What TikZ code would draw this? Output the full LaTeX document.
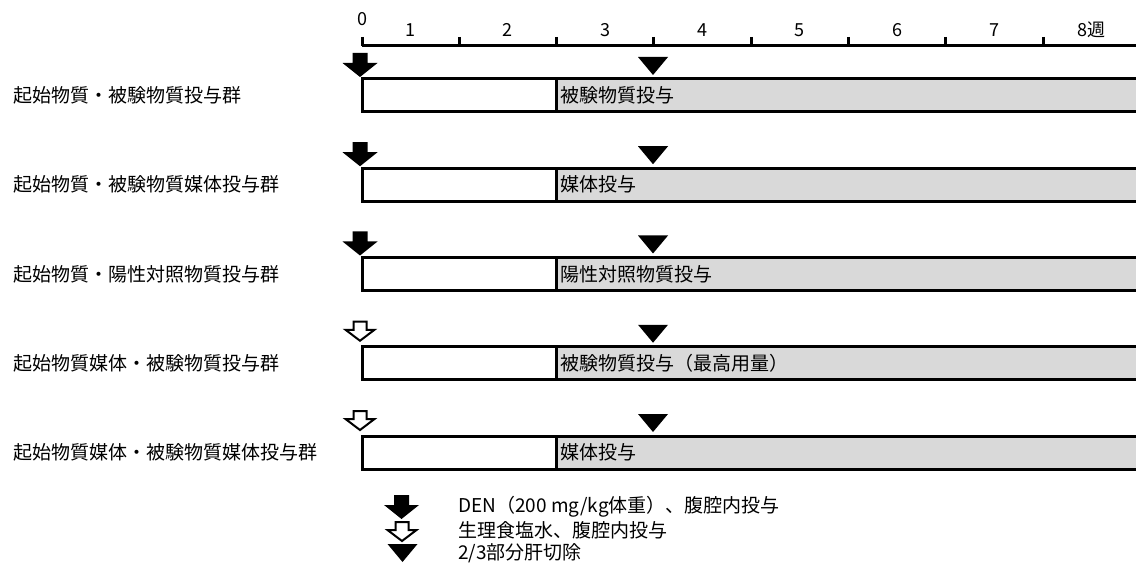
\documentclass[tikz,border=0pt]{standalone}
\usepackage{fontspec}
\setmainfont{Noto Sans CJK JP}
\usepackage{xcolor}
\definecolor{chart-ink}{HTML}{000000}
\definecolor{chart-shade}{HTML}{D9D9D9}
\usepackage{tikz}

\tikzset{
  rule/.style={draw=chart-ink, line width=3pt},
  weektext/.style={inner sep=0pt, font=\fontsize{18}{18}\selectfont},
  grouptext/.style={anchor=west, inner sep=0pt, font=\fontsize{19}{19}\selectfont},
  keytext/.style={anchor=west, inner sep=0pt, font=\fontsize{19}{19}\selectfont},
  initiator/.pic={\fill[chart-ink] (-7.5,-26) -- (7.5,-26) -- (7.5,-16) -- (17.5,-16) -- (0,-2) -- (-17.5,-16) -- (-7.5,-16) -- cycle;},
  saline/.pic={\draw[chart-ink, fill=white, line width=2pt, line join=miter] (-6.5,-25) -- (6.5,-25) -- (6.5,-17) -- (14.5,-17) -- (0,-6) -- (-14.5,-17) -- (-6.5,-17) -- cycle;},
  hepatectomy/.pic={\fill[chart-ink] (-15,-22) -- (15,-22) -- (0,-4) -- cycle;}
}

\begin{document}
\begin{tikzpicture}[x=1pt, y=-1pt]

    % Canvas
    \useasboundingbox (0,0) rectangle (1136,564);
    \clip (0,0) rectangle (1136,564);

    % Week axis
    \draw[rule] (362,46) -- (1140,46);
    \draw[rule] (362,37) -- (362,46) (459.3,37) -- (459.3,46) (556.6,37) -- (556.6,46) (653.9,37) -- (653.9,46)
                (751.2,37) -- (751.2,46) (848.5,37) -- (848.5,46) (945.8,37) -- (945.8,46) (1043.1,37) -- (1043.1,46);
    \node[weektext] (w0) at (362,19) {0};
    \node[weektext] (w1) at (410.6,30) {1};
    \node[weektext] (w2) at (507.9,30) {2};
    \node[weektext] (w3) at (605.2,30) {3};
    \node[weektext] (w4) at (702.5,30) {4};
    \node[weektext] (w5) at (799.8,30) {5};
    \node[weektext] (w6) at (897.1,30) {6};
    \node[weektext] (w7) at (994.4,30) {7};
    \node[weektext] (w8) at (1091.7,30) {8週};

    % Group 1
    \draw[rule, fill=white] (362,79) rectangle (556,112);
    \draw[rule, fill=chart-shade] (556,79) rectangle (1145,112);
    \pic at (360,79) {initiator};
    \pic at (653,79) {hepatectomy};
    \node[grouptext] (g1) at (13,95.5) {起始物質・被験物質投与群};
    \node[grouptext] (d1) at (560,95.5) {被験物質投与};

    % Group 2
    \draw[rule, fill=white] (362,168.25) rectangle (556,201.25);
    \draw[rule, fill=chart-shade] (556,168.25) rectangle (1145,201.25);
    \pic at (360,168.25) {initiator};
    \pic at (653,168.25) {hepatectomy};
    \node[grouptext] (g2) at (13,184.75) {起始物質・被験物質媒体投与群};
    \node[grouptext] (d2) at (560,184.75) {媒体投与};

    % Group 3
    \draw[rule, fill=white] (362,257.5) rectangle (556,290.5);
    \draw[rule, fill=chart-shade] (556,257.5) rectangle (1145,290.5);
    \pic at (360,257.5) {initiator};
    \pic at (653,257.5) {hepatectomy};
    \node[grouptext] (g3) at (13,274) {起始物質・陽性対照物質投与群};
    \node[grouptext] (d3) at (560,274) {陽性対照物質投与};

    % Group 4
    \draw[rule, fill=white] (362,346.75) rectangle (556,379.75);
    \draw[rule, fill=chart-shade] (556,346.75) rectangle (1145,379.75);
    \pic at (360,346.75) {saline};
    \pic at (653,346.75) {hepatectomy};
    \node[grouptext] (g4) at (13,363.25) {起始物質媒体・被験物質投与群};
    \node[grouptext] (d4) at (560,363.25) {被験物質投与（最高用量）};

    % Group 5
    \draw[rule, fill=white] (362,436) rectangle (556,469);
    \draw[rule, fill=chart-shade] (556,436) rectangle (1145,469);
    \pic at (360,436) {saline};
    \pic at (653,436) {hepatectomy};
    \node[grouptext] (g5) at (13,452.5) {起始物質媒体・被験物質媒体投与群};
    \node[grouptext] (d5) at (560,452.5) {媒体投与};

    % Legend
    \pic at (401.5,521) {initiator};
    \pic at (402,547) {saline};
    \pic at (402.5,566) {hepatectomy};
    \node[keytext] (k1) at (458,507) {DEN（200 mg/kg体重）、腹腔内投与};
    \node[keytext] (k2) at (458,530) {生理食塩水、腹腔内投与};
    \node[keytext] (k3) at (458,553) {2/3部分肝切除};

\end{tikzpicture}
\end{document}
